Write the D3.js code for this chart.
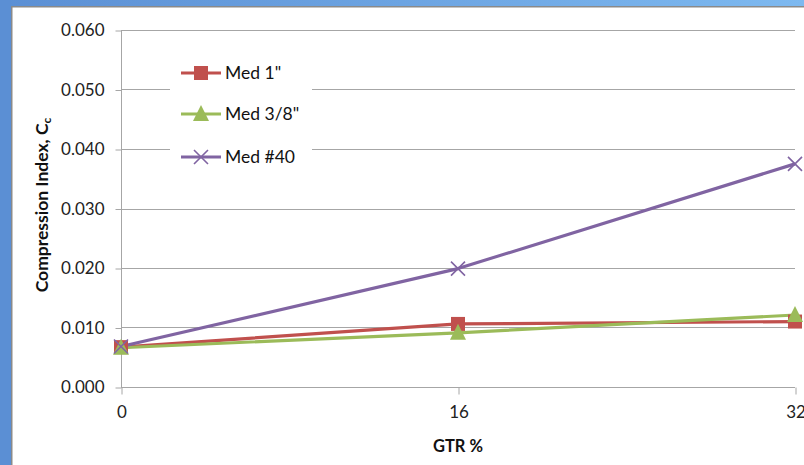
<!DOCTYPE html>
<html><head><meta charset="utf-8">
<script src="https://cdn.jsdelivr.net/npm/d3@7"></script>
<style>body{margin:0;background:#fff;} svg{display:block;}</style>
</head><body>
<svg id="c" width="804" height="465"></svg>
<script>
const gtr = [0, 16, 32];
const xTicks = [0, 16, 32];
const yTicks = [0, 0.01, 0.02, 0.03, 0.04, 0.05, 0.06];
const med1 = [0.0067, 0.0106, 0.0110];
const med38 = [0.0066, 0.0091, 0.0121];
const med40 = [0.0068, 0.0199, 0.0375];
const seriesNames = ['Med 1"', 'Med 3/8"', 'Med #40'];
const seriesColors = ['#c0504d', '#9bbb59', '#8064a2'];
const seriesMarkers = ['square', 'triangle', 'x'];
const seriesData = [med1, med38, med40];

const svg = d3.select('#c');
const font = 'Lato, "Open Sans", sans-serif';

// window frame
const defs = svg.append('defs');
const g1 = defs.append('linearGradient').attr('id','topg').attr('x1',0).attr('x2',1);
g1.append('stop').attr('offset',0).attr('stop-color','#5b8fd4');
g1.append('stop').attr('offset',1).attr('stop-color','#7db9f0');
svg.append('rect').attr('x',0).attr('y',0).attr('width',804).attr('height',6).attr('fill','url(#topg)');
svg.append('rect').attr('x',0).attr('y',0).attr('width',11).attr('height',465).attr('fill','#5b8fd4');
svg.append('rect').attr('x',11).attr('y',6).attr('width',793).attr('height',1.5).attr('fill','#8a8a8a');
svg.append('rect').attr('x',11).attr('y',6).attr('width',1.5).attr('height',459).attr('fill','#8a8a8a');

const x = d3.scaleLinear().domain([0, 32]).range([121, 795]);
const y = d3.scaleLinear().domain([0, 0.06]).range([387, 30]);

// gridlines
svg.append('g').selectAll('line').data(yTicks.filter(d => d > 0)).join('line')
  .attr('x1', 121).attr('x2', 795)
  .attr('y1', d => Math.round(y(d)) + 0.5).attr('y2', d => Math.round(y(d)) + 0.5)
  .attr('stroke', '#a6a6a6').attr('stroke-width', 1);

// y axis
const yAxis = d3.axisLeft(y).tickValues(yTicks).tickFormat(d3.format('.3f')).tickSize(6).tickPadding(11);
const ya = svg.append('g').attr('transform', 'translate(121.5,0.5)').call(yAxis);
ya.select('.domain').attr('stroke', '#a6a6a6').attr('d', 'M0,' + (y(0.06)-0.5) + 'V' + (y(0)-0.5));
ya.selectAll('.tick line').attr('stroke', '#a6a6a6');
ya.selectAll('.tick text').attr('font-family', font).attr('font-size', 17).attr('fill', '#222');

// x axis
const xAxis = d3.axisBottom(x).tickValues(xTicks).tickSize(7).tickPadding(11);
const xa = svg.append('g').attr('transform', 'translate(0.5,' + (Math.round(y(0)) + 0.5) + ')').call(xAxis);
xa.select('.domain').attr('stroke', '#a6a6a6').attr('d', 'M' + (x(0)-0.5) + ',0H' + (x(32)-0.5));
xa.selectAll('.tick line').attr('stroke', '#a6a6a6');
xa.selectAll('.tick text').attr('font-family', font).attr('font-size', 17).attr('fill', '#222');

// axis titles
svg.append('text').attr('x', 458).attr('y', 452).attr('text-anchor', 'middle')
  .attr('font-family', font).attr('font-weight', 'bold').attr('font-size', 16.5).attr('fill', '#111').text('GTR %');
const yt = svg.append('text').attr('transform', 'translate(48,205) rotate(-90)').attr('text-anchor', 'middle')
  .attr('font-family', font).attr('font-weight', 'bold').attr('font-size', 17.5).attr('fill', '#111');
yt.append('tspan').text('Compression Index, C');
yt.append('tspan').attr('font-size', 12).attr('dy', 3).text('c');

function drawMarker(g, type, color, cx, cy) {
  if (type === 'square') {
    g.append('rect').attr('x', cx - 7).attr('y', cy - 7).attr('width', 14).attr('height', 14).attr('fill', color);
  } else if (type === 'triangle') {
    g.append('path').attr('d', `M${cx},${cy-9}L${cx+8},${cy+7}L${cx-8},${cy+7}Z`).attr('fill', color);
  } else {
    g.append('path').attr('d', `M${cx-7},${cy-7}L${cx+7},${cy+7}M${cx-7},${cy+7}L${cx+7},${cy-7}`)
      .attr('stroke', color).attr('stroke-width', 1.6).attr('fill', 'none');
  }
}

const line = d3.line().x((d, i) => x(gtr[i])).y(d => y(d));
const plot = svg.append('g');
seriesData.forEach((vals, si) => {
  plot.append('path').datum(vals).attr('d', line).attr('fill', 'none')
    .attr('stroke', seriesColors[si]).attr('stroke-width', 3.2).attr('stroke-linejoin', 'round');
});
seriesData.forEach((vals, si) => {
  vals.forEach((v, i) => drawMarker(plot, seriesMarkers[si], seriesColors[si], x(gtr[i]), y(v)));
});

// legend
const lg = svg.append('g');
lg.append('rect').attr('x', 170).attr('y', 58).attr('width', 142).attr('height', 120).attr('fill', '#fff');
const legY = [73, 114, 157];
seriesNames.forEach((n, i) => {
  lg.append('line').attr('x1', 181).attr('x2', 221).attr('y1', legY[i]).attr('y2', legY[i])
    .attr('stroke', seriesColors[i]).attr('stroke-width', 3.2);
  drawMarker(lg, seriesMarkers[i], seriesColors[i], 201, legY[i]);
  lg.append('text').attr('x', 225).attr('y', legY[i] + 6).attr('font-family', font).attr('font-size', 17.5)
    .attr('fill', '#111').text(n);
});
</script>
</body></html>
